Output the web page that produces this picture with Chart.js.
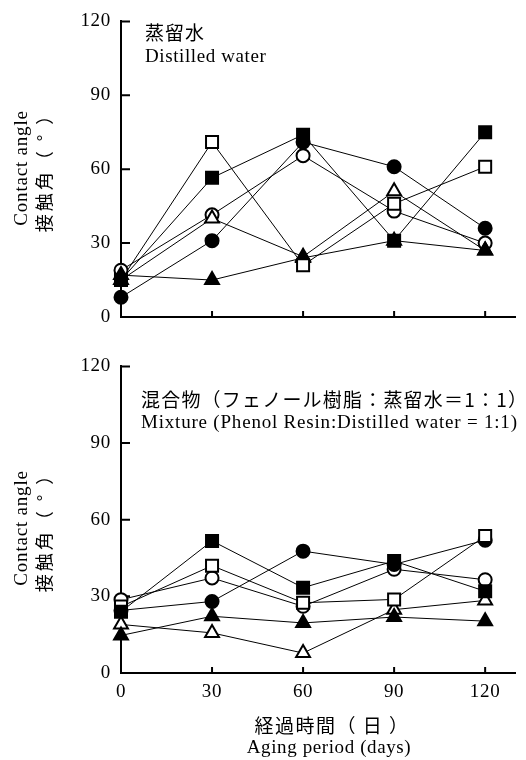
<!DOCTYPE html>
<html>
<head>
<meta charset="utf-8">
<script src="https://cdn.jsdelivr.net/npm/chart.js@4.4.1/dist/chart.umd.min.js"></script>
<style>
  html, body { margin: 0; padding: 0; background: #fff; }
  #wrap { position: relative; width: 526px; height: 760px; }
  canvas { position: absolute; left: 0; }
</style>
</head>
<body>
<div id="wrap">
  <canvas id="chartWater" width="526" height="345" style="top:0"></canvas>
  <canvas id="chartMix" width="526" height="415" style="top:345px"></canvas>
</div>
<script>
const days = [0, 30, 60, 90, 120];
const yTicks = [0, 30, 60, 90, 120];

// distilled water
const waterFilledSquare = [15, 56.5, 74, 31, 75];
const waterOpenSquare = [15, 71, 21, 46, 61];
const waterFilledCircle = [8, 31, 71, 61, 36];
const waterOpenCircle = [19, 41.5, 65.5, 43, 30];
const waterFilledTriangle = [17, 15, 24, 31, 27];
const waterOpenTriangle = [15, 40, 24.5, 51, 27];

// mixture (phenol resin : distilled water = 1:1)
const mixFilledSquare = [24, 51.7, 33.4, 43.8, 32];
const mixOpenSquare = [26, 42, 27.5, 28.8, 53.6];
const mixFilledCircle = [24.5, 28, 47.7, 42.5, 52];
const mixOpenCircle = [28.7, 37.2, 26.1, 40.6, 36.5];
const mixFilledTriangle = [14.7, 22.2, 19.6, 21.9, 20.3];
const mixOpenTriangle = [19, 15.7, 7.8, 24.8, 28.4];

const SERIF = "'Liberation Serif', 'Times New Roman', serif";
const JP = "'Noto Sans CJK JP', 'Noto Sans CJK SC', sans-serif";

const markers = [
  { key: "FilledSquare", style: "rect", fill: "#000", r: 8.5 },
  { key: "OpenSquare", style: "rect", fill: "#fff", r: 8.5 },
  { key: "FilledTriangle", style: "triangle", fill: "#000", r: 8 },
  { key: "OpenTriangle", style: "triangle", fill: "#fff", r: 8 },
  { key: "FilledCircle", style: "circle", fill: "#000", r: 6.5 },
  { key: "OpenCircle", style: "circle", fill: "#fff", r: 6.5 },
];

function buildDatasets(series) {
  const lines = [];
  const points = [];
  markers.forEach((m) => {
    const values = series[m.key];
    const pts = days.map((d, i) => ({ x: d, y: values[i] }));
    lines.push({
      data: pts,
      borderColor: "#000",
      borderWidth: 1,
      pointRadius: 0,
      fill: false,
      tension: 0,
      clip: false,
      order: 10,
    });
    points.push({
      data: pts,
      showLine: false,
      pointStyle: m.style,
      pointRadius: m.r,
      pointBackgroundColor: m.fill,
      pointBorderColor: "#000",
      pointBorderWidth: 2,
      clip: false,
      order: 0,
    });
  });
  return lines.concat(points);
}

function text(ctx, str, x, y, font, spacing) {
  ctx.font = font;
  ctx.letterSpacing = spacing + "px";
  ctx.fillText(str, x, y);
}

function framePlugin(cfg) {
  return {
    id: "frame",
    beforeDraw(chart) {
      // slightly spaced lettering like the original figure (tick labels too)
      chart.ctx.letterSpacing = "0.7px";
    },
    beforeDatasetsDraw(chart) {
      const ctx = chart.ctx;
      const a = chart.chartArea;
      const xs = chart.scales.x;
      const ys = chart.scales.y;
      ctx.save();
      ctx.strokeStyle = "#000";
      ctx.lineWidth = 2;
      ctx.beginPath();
      yTicks.forEach((v) => {
        const py = ys.getPixelForValue(v);
        ctx.moveTo(a.left, py);
        ctx.lineTo(a.left + 9, py);
      });
      days.forEach((v) => {
        const px = xs.getPixelForValue(v);
        ctx.moveTo(px, a.bottom);
        ctx.lineTo(px, a.bottom - 6);
      });
      ctx.stroke();
      ctx.restore();
    },
    afterDraw(chart) {
      const ctx = chart.ctx;
      ctx.save();
      ctx.fillStyle = "#000";
      ctx.textBaseline = "middle";
      ctx.textAlign = "left";
      text(ctx, cfg.noteJp, cfg.noteX, cfg.noteY1, "19px " + JP, cfg.jpSpacing);
      text(ctx, cfg.noteEn, cfg.noteX, cfg.noteY2, "19px " + SERIF, cfg.enSpacing);

      // y title
      ctx.save();
      ctx.translate(22, cfg.yTitleY);
      ctx.rotate(-Math.PI / 2);
      ctx.textAlign = "center";
      text(ctx, "Contact angle", 0, 0, "19px " + SERIF, 0.8);
      ctx.restore();
      ctx.save();
      ctx.translate(44, cfg.yTitleY);
      ctx.rotate(-Math.PI / 2);
      ctx.textAlign = "center";
      text(ctx, "接触角（ ° ）", 0, 0, "18px " + JP, 3);
      ctx.restore();

      if (cfg.xTitle) {
        ctx.textAlign = "center";
        text(ctx, "経過時間（ 日 ）", 332, cfg.xTitleY1, "19px " + JP, 1.5);
        text(ctx, "Aging period (days)", 329, cfg.xTitleY2, "19px " + SERIF, 0.6);
      }
      ctx.restore();
    },
  };
}

function makeChart(id, series, opts) {
  const ctx = document.getElementById(id).getContext("2d");
  return new Chart(ctx, {
    type: "line",
    data: { datasets: buildDatasets(series) },
    options: {
      responsive: false,
      animation: false,
      events: [],
      layout: { padding: { top: opts.padTop, right: 6, left: 0, bottom: 0 } },
      plugins: { legend: { display: false }, tooltip: { enabled: false } },
      scales: {
        x: {
          type: "linear",
          min: 0,
          max: 130,
          afterFit: (s) => { s.height = opts.xHeight; },
          grid: { display: false, drawTicks: false },
          border: { display: true, color: "#000", width: 2 },
          ticks: {
            display: opts.showX,
            stepSize: 30,
            includeBounds: false,
            padding: 8,
            color: "#000",
            font: { family: SERIF, size: 19 },
          },
        },
        y: {
          min: 0,
          max: 120,
          afterFit: (s) => { s.width = 121; },
          grid: { display: false, drawTicks: false },
          border: { display: true, color: "#000", width: 2 },
          ticks: {
            stepSize: 30,
            padding: 10,
            color: "#000",
            font: { family: SERIF, size: 19 },
          },
        },
      },
    },
    plugins: [framePlugin(opts)],
  });
}

makeChart("chartWater", {
  FilledSquare: waterFilledSquare,
  OpenSquare: waterOpenSquare,
  FilledCircle: waterFilledCircle,
  OpenCircle: waterOpenCircle,
  FilledTriangle: waterFilledTriangle,
  OpenTriangle: waterOpenTriangle,
}, {
  padTop: 11,
  xHeight: 28,
  showX: false,
  noteJp: "蒸留水",
  noteEn: "Distilled water",
  jpSpacing: 1,
  enSpacing: 0.6,
  noteX: 145,
  noteY1: 33,
  noteY2: 57,
  yTitleY: 168,
  xTitle: false,
});

makeChart("chartMix", {
  FilledSquare: mixFilledSquare,
  OpenSquare: mixOpenSquare,
  FilledCircle: mixFilledCircle,
  OpenCircle: mixOpenCircle,
  FilledTriangle: mixFilledTriangle,
  OpenTriangle: mixOpenTriangle,
}, {
  padTop: 21,
  xHeight: 87,
  showX: true,
  noteJp: "混合物（フェノール樹脂：蒸留水＝1：1）",
  noteEn: "Mixture (Phenol Resin:Distilled water = 1:1)",
  jpSpacing: 1.2,
  enSpacing: 0.8,
  noteX: 141,
  noteY1: 55,
  noteY2: 78,
  yTitleY: 183,
  xTitle: true,
  xTitleY1: 381,
  xTitleY2: 403,
});
</script>
</body>
</html>
